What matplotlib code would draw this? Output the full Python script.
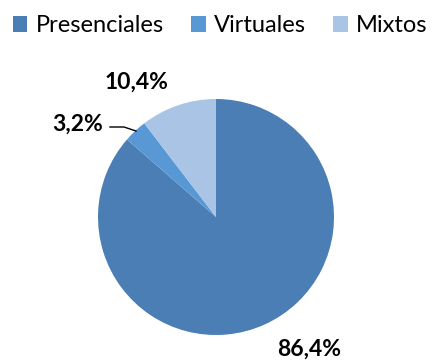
import matplotlib.pyplot as plt

# modalidad share
categorias = ['Presenciales', 'Virtuales', 'Mixtos']
porcentajes = [86.4, 3.2, 10.4]
colores = ['#4A7EB5', '#5898D4', '#AAC4E6']

plt.rcParams['font.family'] = ['Lato', 'DejaVu Sans']

fig = plt.figure(figsize=(4.35, 3.6), dpi=100)
ax = fig.add_axes([0, 0, 1, 1])

# pie in pixel-like coordinates
wedges, _ = ax.pie(porcentajes, colors=colores, startangle=90, counterclock=False,
                   center=(216, 143), radius=118, frame=True)
ax.set_xlim(0, 435)
ax.set_ylim(0, 360)
ax.axis('off')

lbl = lambda v: f'{v:.1f}%'.replace('.', ',')

ax.text(309, 11, lbl(porcentajes[0]), ha='center', va='center', fontsize=16.5, fontweight='bold')
ax.text(137, 278, lbl(porcentajes[2]), ha='center', va='center', fontsize=16.5, fontweight='bold')
ax.text(78, 236, lbl(porcentajes[1]), ha='center', va='center', fontsize=16.5, fontweight='bold')
ax.plot([110, 124, 136], [233, 233, 229], color='black', lw=1)

fig.legend(wedges, categorias, loc='upper center', bbox_to_anchor=(0.506, 0.99), ncol=3,
           frameon=False, fontsize=17, handlelength=0.62, handleheight=0.62,
           handletextpad=0.35, columnspacing=1.15, borderaxespad=0.2, borderpad=0.3)

fig.savefig('out.png', dpi=100)
